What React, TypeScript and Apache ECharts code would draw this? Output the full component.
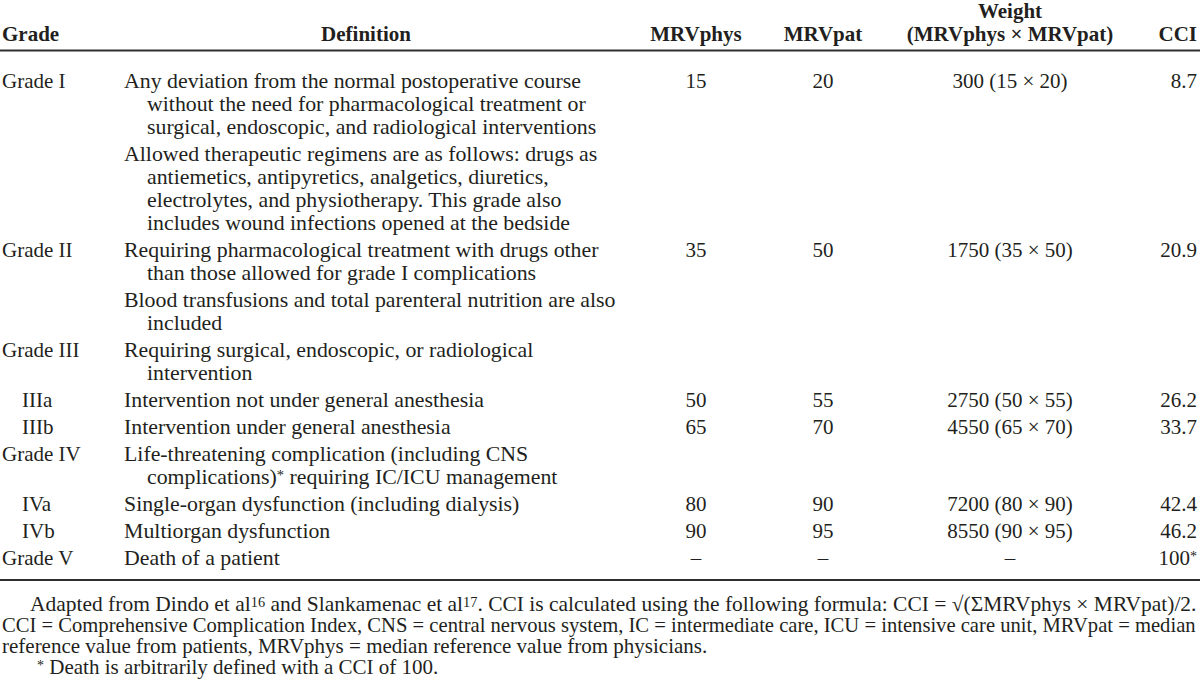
import React, { useEffect, useRef } from "react";
import * as echarts from "echarts";

// ---------- table content ----------
const headerTopLine = ["", "", "", "", "Weight", ""];
const headerLabels = ["Grade", "Definition", "MRVphys", "MRVpat", "(MRVphys × MRVpat)", "CCI"];

const grades = ["Grade I", "Grade II", "Grade III", "IIIa", "IIIb", "Grade IV", "IVa", "IVb", "Grade V"];
const isSubGrade = [false, false, false, true, true, false, true, true, false];

const definitions: string[][][] = [
  [
    [
      "Any deviation from the normal postoperative course",
      "without the need for pharmacological treatment or",
      "surgical, endoscopic, and radiological interventions",
    ],
    [
      "Allowed therapeutic regimens are as follows: drugs as",
      "antiemetics, antipyretics, analgetics, diuretics,",
      "electrolytes, and physiotherapy. This grade also",
      "includes wound infections opened at the bedside",
    ],
  ],
  [
    ["Requiring pharmacological treatment with drugs other", "than those allowed for grade I complications"],
    ["Blood transfusions and total parenteral nutrition are also", "included"],
  ],
  [["Requiring surgical, endoscopic, or radiological", "intervention"]],
  [["Intervention not under general anesthesia"]],
  [["Intervention under general anesthesia"]],
  [["Life-threatening complication (including CNS", "complications){sup|*} requiring IC/ICU management"]],
  [["Single-organ dysfunction (including dialysis)"]],
  [["Multiorgan dysfunction"]],
  [["Death of a patient"]],
];

const mrvPhys: (number | string | null)[] = [15, 35, null, 50, 65, null, 80, 90, "–"];
const mrvPat: (number | string | null)[] = [20, 50, null, 55, 70, null, 90, 95, "–"];
const weights: (number | string | null)[] = [300, 1750, null, 2750, 4550, null, 7200, 8550, "–"];
const cciValues: (number | null)[] = [8.7, 20.9, null, 26.2, 33.7, null, 42.4, 46.2, 100];
const cciNotes = ["", "", "", "", "", "", "", "", "*"];

const footnotes = [
  "Adapted from Dindo et al{sup|16} and Slankamenac et al{sup|17}. CCI is calculated using the following formula: CCI = √(ΣMRVphys × MRVpat)/2.",
  "CCI = Comprehensive Complication Index, CNS = central nervous system, IC = intermediate care, ICU = intensive care unit, MRVpat = median",
  "reference value from patients, MRVphys = median reference value from physicians.",
  "{sup|*} Death is arbitrarily defined with a CCI of 100.",
];

// ---------- layout ----------
const W = 1200;
const H = 684;
const FONT = "Liberation Serif";
const FS = 21;
const SUP_FS = 14;
const INK = "#231f20";
const COL = { grade: 2, sub: 22, def: 124, defCont: 147, phys: 696, pat: 823, weight: 1010, cci: 1197 };
const HEAD_Y1 = 11;
const HEAD_Y2 = 34;
const TOP_RULE = 50.5;
const BODY_START = 81;
const LINE_H = 23;
const BLOCK_GAP = 4;
const FOOT_START = 604;
const FOOT_LINE = 21;
const footIndent = [30, 2, 2, 37];
const footJustify = [true, true, false, false];
const DEF_SCALE = 1.04;

type Cell = { x: number; y: number; text: string; align: string; bold?: boolean; sx?: number };

function measure(text: string, bold = false): number {
  const c = document.createElement("canvas");
  const ctx = c.getContext("2d");
  if (!ctx) return text.length * 9;
  const parts = text.split(/(\{sup\|[^}]*\})/);
  let w = 0;
  for (const p of parts) {
    if (!p) continue;
    const m = p.match(/^\{sup\|(.*)\}$/);
    if (m) {
      ctx.font = `${SUP_FS}px "${FONT}"`;
      w += ctx.measureText(m[1]).width;
    } else {
      ctx.font = `${bold ? "bold " : ""}${FS}px "${FONT}"`;
      w += ctx.measureText(p).width;
    }
  }
  return w;
}

function fmt(v: number | string | null): string {
  return v === null ? "" : String(v);
}

function buildCells(): { cells: Cell[]; bottomRule: number } {
  const cells: Cell[] = [];
  // header
  const headX = [COL.grade, 366, COL.phys, COL.pat, COL.weight, COL.cci];
  const headAlign = ["left", "center", "center", "center", "center", "right"];
  headerLabels.forEach((t, i) => {
    if (headerTopLine[i]) cells.push({ x: headX[i], y: HEAD_Y1, text: headerTopLine[i], align: headAlign[i], bold: true });
    cells.push({ x: headX[i], y: HEAD_Y2, text: t, align: headAlign[i], bold: true });
  });
  // body
  let y = BODY_START;
  let lastY = y;
  grades.forEach((g, i) => {
    const rowY = y;
    cells.push({ x: isSubGrade[i] ? COL.sub : COL.grade, y: rowY, text: g, align: "left" });
    const phys = fmt(mrvPhys[i]);
    const pat = fmt(mrvPat[i]);
    const wv = weights[i];
    const wText = typeof wv === "number" ? `${wv} (${mrvPhys[i]} × ${mrvPat[i]})` : fmt(wv);
    const cv = cciValues[i];
    const cText = cv === null ? "" : String(cv) + (cciNotes[i] ? `{sup|${cciNotes[i]}}` : "");
    if (phys) cells.push({ x: COL.phys, y: rowY, text: phys, align: "center" });
    if (pat) cells.push({ x: COL.pat, y: rowY, text: pat, align: "center" });
    if (wText) cells.push({ x: COL.weight, y: rowY, text: wText, align: "center" });
    if (cText) cells.push({ x: COL.cci, y: rowY, text: cText, align: "right" });
    definitions[i].forEach((block) => {
      block.forEach((line, k) => {
        cells.push({ x: k === 0 ? COL.def : COL.defCont, y: y + k * LINE_H, text: line, align: "left", sx: DEF_SCALE });
        lastY = y + k * LINE_H;
      });
      y += block.length * LINE_H + BLOCK_GAP;
    });
  });
  const bottomRule = lastY + 22;
  // footnotes
  footnotes.forEach((t, i) => {
    const x = footIndent[i];
    let sx = 1;
    if (footJustify[i]) {
      const w = measure(t);
      sx = (W - 3 - x) / w;
    }
    cells.push({ x, y: FOOT_START + i * FOOT_LINE, text: t, align: "left", sx });
  });
  return { cells, bottomRule };
}

export default function App() {
  const ref = useRef<HTMLDivElement>(null);
  useEffect(() => {
    if (!ref.current) return;
    document.body.style.margin = "0";
    document.body.style.overflow = "hidden";
    const chart = echarts.init(ref.current, null, { renderer: "svg" });
    const { cells, bottomRule } = buildCells();
    const rules = [TOP_RULE, bottomRule];
    chart.setOption({
      animation: false,
      backgroundColor: "#ffffff",
      grid: { left: 0, right: 0, top: 0, bottom: 0 },
      xAxis: { type: "value", min: 0, max: W, show: false },
      yAxis: { type: "value", min: 0, max: H, inverse: true, show: false },
      tooltip: { show: false },
      series: [
        {
          type: "custom",
          silent: true,
          clip: false,
          data: rules.map((r) => [0, r]),
          renderItem: (params: any, api: any) => {
            const yv = api.value(1);
            const p1 = api.coord([0, yv]);
            const p2 = api.coord([W, yv]);
            return {
              type: "line",
              shape: { x1: p1[0], y1: p1[1], x2: p2[0], y2: p2[1] },
              style: { stroke: "#2e2e2e", lineWidth: 2 },
            };
          },
        },
        {
          type: "custom",
          silent: true,
          clip: false,
          data: cells.map((c, i) => [c.x, c.y, i]),
          renderItem: (params: any, api: any) => {
            const c = cells[api.value(2)];
            const p = api.coord([api.value(0), api.value(1)]);
            return {
              type: "text",
              x: p[0],
              y: p[1],
              scaleX: c.sx || 1,
              style: {
                text: c.text,
                x: 0,
                y: 0,
                fontFamily: FONT,
                fontSize: FS,
                fontWeight: c.bold ? "bold" : "normal",
                fill: INK,
                align: c.align,
                verticalAlign: "middle",
                lineHeight: 18,
                rich: {
                  sup: {
                    fontFamily: FONT,
                    fontSize: SUP_FS,
                    fill: INK,
                    verticalAlign: "top",
                    lineHeight: 8,
                  },
                },
              },
            };
          },
        },
      ],
    });
    return () => chart.dispose();
  }, []);
  return (
    <div
      ref={ref}
      style={{ position: "fixed", left: 0, top: 0, width: W, height: H, background: "#fff" }}
    />
  );
}
